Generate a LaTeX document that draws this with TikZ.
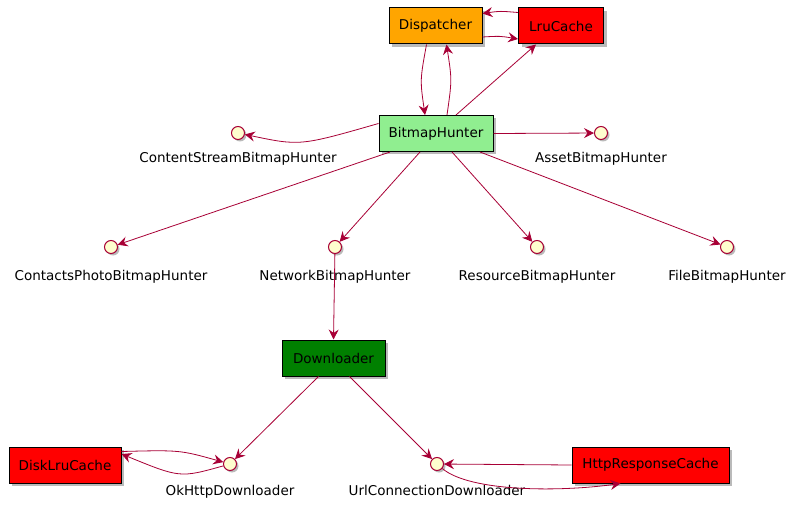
\documentclass[tikz,border=0pt]{standalone}
\usepackage{fontspec}
\setmainfont{DejaVu Sans}
\usetikzlibrary{arrows.meta,shadows}
\definecolor{plred}{HTML}{A80036}
\definecolor{plyel}{HTML}{FEFECE}
\definecolor{plgreen}{HTML}{90EE90}
\definecolor{ploran}{HTML}{FFA500}
\definecolor{pldark}{HTML}{008000}
\begin{document}
\begin{tikzpicture}[x=1pt,y=-1pt,
  box/.style={draw=black,line width=1pt,minimum height=36pt,inner xsep=9pt,font=\fontsize{13.5}{15}\selectfont,
    drop shadow={shadow xshift=3pt,shadow yshift=-3pt,fill=black!45,opacity=0.6}},
  iface/.style={circle,draw=plred,line width=1pt,fill=plyel,minimum size=13pt,inner sep=0pt,
    drop shadow={shadow xshift=2pt,shadow yshift=-2pt,fill=black!45,opacity=0.6}},
  lbl/.style={font=\fontsize{13.5}{15}\selectfont,inner sep=0pt},
  con/.style={draw=plred,line width=0.8pt,-{Stealth[length=10pt,width=10pt,inset=3.5pt]}}]
\useasboundingbox (0,0) rectangle (796,508);
\fill[white] (0,0) rectangle (796,508);
% boxes
\node[box,fill=ploran,minimum width=93pt] (disp) at (435.5,26) {Dispatcher};
\node[box,fill=red,minimum width=85pt] (lru) at (561,26) {LruCache};
\node[box,fill=plgreen,minimum width=114pt] (bh) at (436,133.5) {BitmapHunter};
\node[box,fill=pldark,minimum width=103pt] (dl) at (333.5,358) {Downloader};
\node[box,fill=red,minimum width=112pt] (disk) at (65,465) {DiskLruCache};
\node[box,fill=red,minimum width=157pt] (http) at (650.5,465) {HttpResponseCache};
% interfaces
\node[iface] (cs) at (238,133) {};
\node[lbl,anchor=north] at (238,152) {ContentStreamBitmapHunter};
\node[iface] (as) at (601,133) {};
\node[lbl,anchor=north] at (601,152) {AssetBitmapHunter};
\node[iface] (cp) at (111,247) {};
\node[lbl,anchor=north] at (111,270) {ContactsPhotoBitmapHunter};
\node[iface] (nw) at (335,247) {};
\node[lbl,anchor=north] at (335,270) {NetworkBitmapHunter};
\node[iface] (rs) at (537,247) {};
\node[lbl,anchor=north] at (537,270) {ResourceBitmapHunter};
\node[iface] (fl) at (727,247) {};
\node[lbl,anchor=north] at (727,270) {FileBitmapHunter};
\node[iface] (ok) at (230,464) {};
\node[lbl,anchor=north] at (230,485) {OkHttpDownloader};
\node[iface] (uc) at (437,464) {};
\node[lbl,anchor=north] at (437,485) {UrlConnectionDownloader};
% connectors
\draw[con] ([yshift=-11pt]disp.east) .. controls (500,36) .. ([yshift=-13pt]lru.west);
\draw[con] ([yshift=-5pt]lru.north west) .. controls (500,11) .. ([yshift=-6pt]disp.north east);
\draw[con] ([xshift=-9pt]disp.south) .. controls (420,80) .. ([xshift=-11pt]bh.north);
\draw[con] ([xshift=11pt]bh.north) .. controls (452,80) .. ([xshift=11pt]disp.south);
\draw[con] ([xshift=20pt]bh.north) -- ([xshift=-25pt]lru.south);
\draw[con] ([yshift=10pt]bh.west) .. controls (300,146) .. (cs);
\draw[con] (bh.east) -- (as);
\draw[con] ([xshift=-46pt]bh.south) -- (cp);
\draw[con] ([xshift=-16pt]bh.south) -- (nw);
\draw[con] ([xshift=16pt]bh.south) -- (rs);
\draw[con] ([xshift=44pt]bh.south) -- (fl);
\draw[con] (nw) -- (dl.north);
\draw[con] ([xshift=-15pt]dl.south) -- (ok);
\draw[con] ([xshift=16pt]dl.south) -- (uc);
\draw[con] ([yshift=-5pt]disk.north east) .. controls (180,450) .. (ok);
\draw[con] (ok) .. controls (180,478) .. ([yshift=11pt]disk.east);
\draw[con] (http.west) -- (uc);
\draw[con] (uc) .. controls (470,492) and (560,492) .. ([xshift=-30pt]http.south);
\end{tikzpicture}
\end{document}
